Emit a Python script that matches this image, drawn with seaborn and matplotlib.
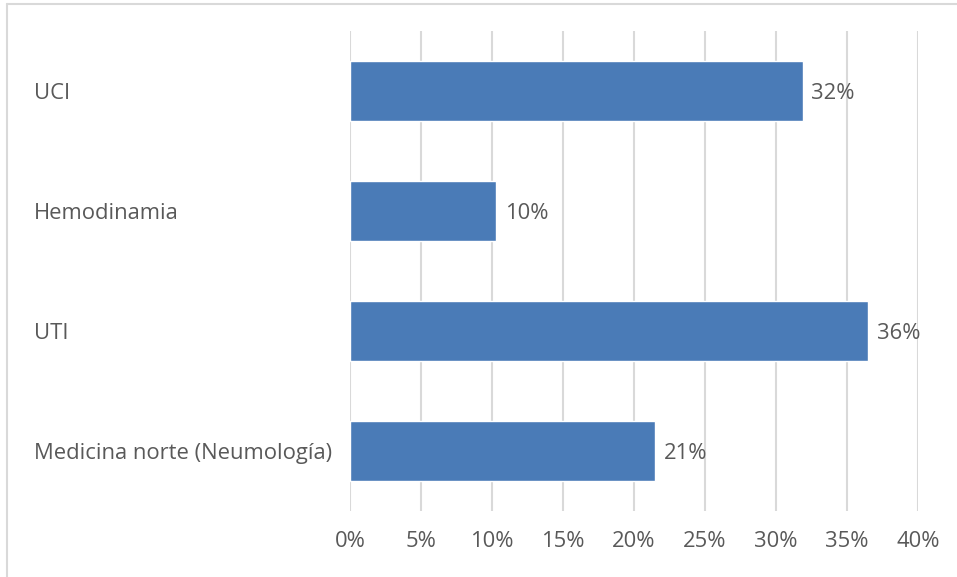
import pandas as pd
import seaborn as sns
import matplotlib.pyplot as plt
from matplotlib.lines import Line2D

# datos
areas = ['UCI', 'Hemodinamia', 'UTI', 'Medicina norte (Neumología)']
porcentajes = [31.9, 10.3, 36.5, 21.5]
etiquetas = ['32%', '10%', '36%', '21%']
ticks_x = [0, 5, 10, 15, 20, 25, 30, 35, 40]

df = pd.DataFrame({'area': areas, 'pct': porcentajes})

sns.set_theme(style='white')
plt.rcParams['font.family'] = ['Open Sans', 'DejaVu Sans']

gris = '#595959'
fs = 15.8
fig = plt.figure(figsize=(9.57, 5.77), dpi=100)
ax = fig.add_axes([350 / 957, 1 - 511 / 577, (918 - 350) / 957, (511 - 31) / 577])

sns.barplot(data=df, x='pct', y='area', color='#4a7bb7', width=0.5,
            saturation=1, ax=ax, zorder=3)

ax.set_xlim(0, 40)
ax.set_ylim(3.5, -0.5)
ax.set_xticks(ticks_x)
ax.set_xticklabels([f'{t}%' for t in ticks_x], color=gris, fontsize=fs)
ax.grid(axis='x', color='#d9d9d9', linewidth=1.5, zorder=0)
ax.set_axisbelow(True)
for s in ax.spines.values():
    s.set_visible(False)
ax.tick_params(axis='x', length=0, pad=14.5)
ax.tick_params(axis='y', length=0, pad=(350 - 34) * 0.72)
for lbl in ax.get_yticklabels():
    lbl.set_horizontalalignment('left')
    lbl.set_color(gris)
    lbl.set_fontsize(fs)
ax.set_xlabel('')
ax.set_ylabel('')

textos = ax.bar_label(ax.containers[0], labels=etiquetas, padding=6, color=gris, fontsize=fs)
for t in textos:
    t.xyann = (6, -2)

# borde del cuadro
fig.add_artist(Line2D([7 / 957, 7 / 957], [0, 1 - 4 / 577], color='#d9d9d9', lw=1.5))
fig.add_artist(Line2D([7 / 957, 1], [1 - 4 / 577, 1 - 4 / 577], color='#d9d9d9', lw=1.5))

plt.savefig('out.png', dpi=100)
